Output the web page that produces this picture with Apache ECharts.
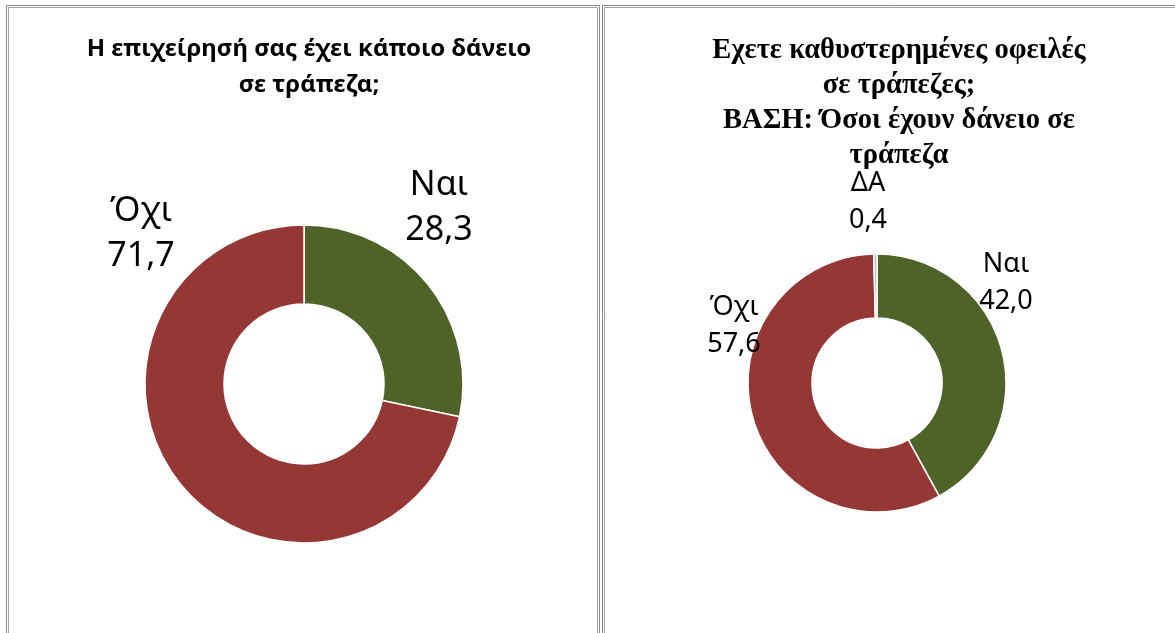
<!DOCTYPE html>
<html>
<head>
<meta charset="utf-8">
<script src="https://cdn.jsdelivr.net/npm/echarts@6/dist/echarts.min.js"></script>
<style>
  html, body { margin: 0; padding: 0; background: #fff; }
  #chart { width: 1175px; height: 633px; }
</style>
</head>
<body>
<div id="chart"></div>
<script>
  // left chart: does the business have a bank loan
  const loanNames = ['Ναι', 'Όχι'];
  const loanValues = [28.3, 71.7];
  const loanTitle = 'Η επιχείρησή σας έχει κάποιο δάνειο\nσε τράπεζα;';

  // right chart: overdue debts, base = those with a loan
  const debtNames = ['Ναι', 'Όχι', 'ΔΑ'];
  const debtValues = [42.0, 57.6, 0.4];
  const debtTitle = 'Εχετε καθυστερημένες οφειλές\nσε τράπεζες;\nΒΑΣΗ: Όσοι έχουν δάνειο σε\nτράπεζα';

  const colors = ['#4F6228', '#953735', '#BFBFBF'];

  // where each data label sits (centre of the two-line block)
  const loanLabelPos = [[439, 208], [141, 234]];
  const debtLabelPos = [[1006, 283], [734, 326], [868, 202]];

  const fmt = v => v.toFixed(1).replace('.', ',');

  function toData(names, values) {
    return names.map((n, i) => ({
      name: n,
      value: values[i],
      itemStyle: { color: colors[i] }
    }));
  }

  function frame(x, y, w, h) {
    // double grey rule like the original panel border
    return [
      { type: 'rect', shape: { x: x, y: y, width: w, height: h },
        style: { fill: null, stroke: '#8a8a8a', lineWidth: 1 } },
      { type: 'rect', shape: { x: x + 2, y: y + 2, width: w - 4, height: h },
        style: { fill: null, stroke: '#a0a0a0', lineWidth: 1 } }
    ];
  }

  const chart = echarts.init(document.getElementById('chart'), null, { renderer: 'canvas' });

  const option = {
    animation: false,
    title: [
      {
        text: loanTitle,
        left: 304,
        top: 26,
        textAlign: 'center',
        textStyle: {
          fontFamily: 'Noto Sans',
          fontWeight: 'bold',
          fontSize: 24,
          lineHeight: 36,
          color: '#000'
        }
      },
      {
        text: debtTitle,
        left: 894,
        top: 28,
        textAlign: 'center',
        textStyle: {
          fontFamily: 'Liberation Serif',
          fontWeight: 'bold',
          fontSize: 28.5,
          lineHeight: 35,
          color: '#000'
        }
      }
    ],
    graphic: frame(6.5, 5.5, 593, 660).concat(frame(602.5, 5.5, 620, 660)),
    series: [
      {
        type: 'pie',
        center: [304, 384],
        radius: [80, 159],
        startAngle: 90,
        clockwise: true,
        itemStyle: { borderColor: '#fff', borderWidth: 1.5 },
        label: {
          show: true,
          formatter: p => p.name + '\n' + fmt(p.value),
          fontFamily: 'Noto Sans',
          fontSize: 34,
          lineHeight: 45,
          color: '#000'
        },
        labelLine: { show: false },
        labelLayout: p => ({
          x: loanLabelPos[p.dataIndex][0],
          y: loanLabelPos[p.dataIndex][1],
          align: 'center',
          verticalAlign: 'middle'
        }),
        emphasis: { disabled: true },
        data: toData(loanNames, loanValues)
      },
      {
        type: 'pie',
        center: [877, 383],
        radius: [65, 129],
        startAngle: 90,
        clockwise: true,
        minAngle: 0,
        itemStyle: { borderColor: '#fff', borderWidth: 1.5 },
        label: {
          show: true,
          formatter: p => p.name + '\n' + fmt(p.value),
          fontFamily: 'Noto Sans',
          fontSize: 27,
          lineHeight: 37,
          color: '#000'
        },
        labelLine: { show: false },
        labelLayout: p => ({
          x: debtLabelPos[p.dataIndex][0],
          y: debtLabelPos[p.dataIndex][1],
          align: 'center',
          verticalAlign: 'middle'
        }),
        emphasis: { disabled: true },
        data: toData(debtNames, debtValues)
      }
    ]
  };

  chart.setOption(option);
</script>
</body>
</html>
